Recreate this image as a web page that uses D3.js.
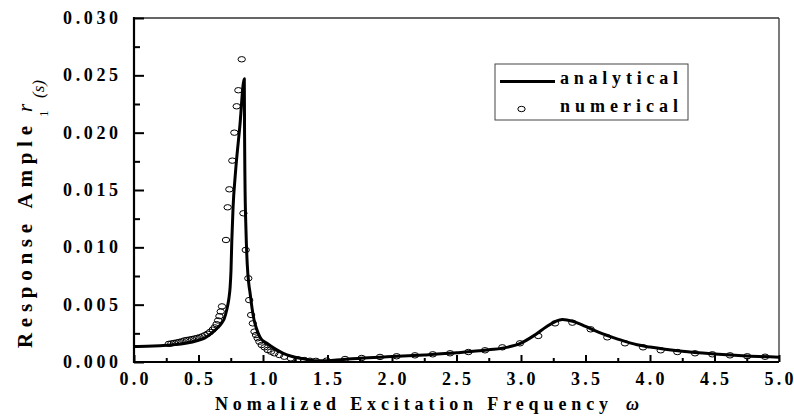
<!DOCTYPE html>
<html>
<head>
<meta charset="utf-8">
<script src="https://cdn.jsdelivr.net/npm/d3@7"></script>
<style>
  html, body { margin: 0; padding: 0; background: #fff; }
  svg { display: block; }
  text { font-family: "Liberation Serif", "Times New Roman", serif; fill: #000; }
</style>
</head>
<body>
<script>
// ---------------- data ----------------
const analyticW = [0, 0.1, 0.2, 0.3, 0.4, 0.5, 0.55, 0.6, 0.65, 0.68, 0.70, 0.72, 0.735, 0.745, 0.752, 0.758, 0.768, 0.785, 0.82, 0.855,
  0.857, 0.860, 0.868, 0.878, 0.89, 0.90, 0.915, 0.93, 0.95, 0.98, 1.03, 1.1, 1.157, 1.22, 1.287, 1.35, 1.416, 1.5,
  1.6, 1.75, 2.0, 2.25, 2.5, 2.75, 2.9, 3.0, 3.1, 3.2, 3.27, 3.32, 3.4, 3.5, 3.6, 3.75, 3.9, 4.0, 4.25, 4.5, 4.75, 5.0];
const analyticR = [0.00135, 0.00137, 0.00142, 0.0015, 0.00163, 0.0019, 0.0021, 0.0025, 0.0030, 0.0034, 0.0038, 0.0046, 0.0055, 0.0065, 0.0080, 0.0105, 0.0135, 0.0163, 0.0205, 0.0247,
  0.0200, 0.0160, 0.0115, 0.0085, 0.0068, 0.0060, 0.0047, 0.0037, 0.0029, 0.0021, 0.00163, 0.0011, 0.00076, 0.0005, 0.00032, 0.0002, 0.0001, 0.00012,
  0.0002, 0.00033, 0.00047, 0.00062, 0.0008, 0.00106, 0.0013, 0.00165, 0.0023, 0.0031, 0.00355, 0.0037, 0.00355, 0.0031, 0.0026, 0.002, 0.0015, 0.0013, 0.00093, 0.0007, 0.00053, 0.00042];

const numericW = [0.27, 0.29, 0.31, 0.33, 0.35, 0.37, 0.39, 0.41, 0.43, 0.45, 0.47, 0.49, 0.51, 0.53, 0.55, 0.57, 0.59, 0.61, 0.625, 0.64, 0.652, 0.662, 0.672, 0.682,
  0.713, 0.726, 0.739, 0.762, 0.778, 0.796, 0.809, 0.835,
  0.848, 0.866, 0.886, 0.893, 0.908, 0.921, 0.934, 0.946, 0.959, 0.972, 0.99, 1.012, 1.036, 1.062, 1.088, 1.126, 1.165, 1.216, 1.268, 1.32, 1.364, 1.41,
  1.494, 1.636, 1.765, 1.907, 2.036, 2.178, 2.316, 2.45, 2.592, 2.721, 2.855, 2.992, 3.134, 3.264, 3.398, 3.54, 3.669, 3.806, 3.946, 4.083, 4.212, 4.349, 4.483, 4.62, 4.754, 4.892];
const numericR = [0.00158, 0.00162, 0.00166, 0.00170, 0.00175, 0.00180, 0.00188, 0.00192, 0.00196, 0.00200, 0.00205, 0.00210, 0.00216, 0.00224, 0.00234, 0.00246, 0.00262, 0.00282, 0.00302, 0.00330, 0.00362, 0.00400, 0.00440, 0.00485,
  0.01064, 0.01349, 0.01506, 0.01756, 0.0200, 0.0223, 0.0237, 0.0264,
  0.01297, 0.00977, 0.0073, 0.0054, 0.0041, 0.00337, 0.00265, 0.00235, 0.00207, 0.00177, 0.00148, 0.00128, 0.00105, 0.0009, 0.00076, 0.00061, 0.00046, 0.00032, 0.00024, 0.00017, 0.00011, 0.0001,
  0.00012, 0.00026, 0.00035, 0.00044, 0.0005, 0.00058, 0.00067, 0.00076, 0.00087, 0.00102, 0.00128, 0.00163, 0.00227, 0.00337, 0.00343, 0.00285, 0.00215, 0.00163, 0.00128, 0.00102, 0.00087, 0.00076, 0.00067, 0.00058, 0.0005, 0.00046];

const xTickValues = [0, 0.5, 1, 1.5, 2, 2.5, 3, 3.5, 4, 4.5, 5];
const xMinorValues = [0.25, 0.75, 1.25, 1.75, 2.25, 2.75, 3.25, 3.75, 4.25, 4.75];
const yTickValues = [0, 0.005, 0.01, 0.015, 0.02, 0.025, 0.03];
const yMinorValues = [0.0025, 0.0075, 0.0125, 0.0175, 0.0225, 0.0275];
const legendLabels = ["analytical", "numerical"];
const xTitle = "Nomalized Excitation Frequency";
const yTitle = "Response Ample";

// ---------------- drawing ----------------
const W = 794, H = 419;
const L = 134, R = 779, T = 18, B = 362;
const svg = d3.select("body").append("svg").attr("width", W).attr("height", H);

const x = d3.scaleLinear().domain([0, 5]).range([L, R]);
const y = d3.scaleLinear().domain([0, 0.03]).range([B, T]);

svg.append("defs").append("clipPath").attr("id", "clip")
  .append("rect").attr("x", L).attr("y", T).attr("width", R - L).attr("height", B - T);

// frame
svg.append("line").attr("x1", L).attr("x2", R).attr("y1", T).attr("y2", T).attr("stroke", "#333").attr("stroke-width", 1.3);
svg.append("line").attr("x1", R).attr("x2", R).attr("y1", T).attr("y2", B).attr("stroke", "#333").attr("stroke-width", 1.3);

// axes with inward ticks
const gx = svg.append("g").attr("transform", `translate(0,${B})`);
gx.call(d3.axisBottom(x).tickValues(xTickValues).tickSizeInner(-7).tickSizeOuter(0).tickFormat(""));
const gxm = svg.append("g").attr("transform", `translate(0,${B})`);
gxm.call(d3.axisBottom(x).tickValues(xMinorValues).tickSizeInner(-4).tickSizeOuter(0).tickFormat(""));
const gy = svg.append("g").attr("transform", `translate(${L},0)`);
gy.call(d3.axisLeft(y).tickValues(yTickValues).tickSizeInner(-10).tickSizeOuter(0).tickFormat(""));
const gym = svg.append("g").attr("transform", `translate(${L},0)`);
gym.call(d3.axisLeft(y).tickValues(yMinorValues).tickSizeInner(-6).tickSizeOuter(0).tickFormat(""));
[gx, gxm, gy, gym].forEach(g => {
  g.selectAll(".domain").remove();
  g.selectAll(".tick line").attr("stroke", "#000").attr("stroke-width", 2);
});
svg.append("line").attr("x1", L).attr("x2", R).attr("y1", B).attr("y2", B).attr("stroke", "#000").attr("stroke-width", 2.2);
svg.append("line").attr("x1", L).attr("x2", L).attr("y1", T - 1).attr("y2", B + 1).attr("stroke", "#000").attr("stroke-width", 2.2);

// tick labels
svg.append("g").selectAll("text").data(xTickValues).join("text")
  .attr("x", d => x(d) - 14.5).attr("y", 385)
  .attr("textLength", 29).attr("lengthAdjust", "spacing")
  .style("font-size", "18px").style("font-weight", "bold")
  .text(d => d3.format(".1f")(d));
svg.append("g").selectAll("text").data(yTickValues).join("text")
  .attr("x", 63).attr("y", d => y(d) + 6)
  .attr("textLength", 55).attr("lengthAdjust", "spacing")
  .style("font-size", "18px").style("font-weight", "bold")
  .text(d => d3.format(".3f")(d));

// x title
svg.append("text").attr("x", 215).attr("y", 410)
  .attr("textLength", 393).attr("lengthAdjust", "spacing")
  .style("font-size", "18px").style("font-weight", "bold")
  .text(xTitle);
svg.append("text").attr("x", 626).attr("y", 410)
  .style("font-size", "18px").style("font-weight", "bold").style("font-style", "italic")
  .text("ω");

// y title (rotated)
const yt = svg.append("g").attr("transform", "translate(32,348) rotate(-90)");
yt.append("text").attr("x", 0).attr("y", 0)
  .attr("textLength", 222).attr("lengthAdjust", "spacing")
  .style("font-size", "21px").style("font-weight", "bold")
  .text(yTitle);
yt.append("text").attr("x", 236).attr("y", 0)
  .style("font-size", "21px").style("font-style", "italic")
  .text("r");
yt.append("text").attr("x", 231).attr("y", 16)
  .style("font-size", "13px")
  .text("1");
yt.append("text").attr("x", 250).attr("y", 12)
  .style("font-size", "17px").style("font-style", "italic")
  .text("(s)");

// plot
const plot = svg.append("g").attr("clip-path", "url(#clip)");
const aData = analyticW.map((w, i) => [w, analyticR[i]]);
const nData = numericW.map((w, i) => [w, numericR[i]]);

plot.append("path").datum(aData)
  .attr("fill", "none").attr("stroke", "#000").attr("stroke-width", 3).attr("stroke-linejoin", "round")
  .attr("d", d3.line().x(d => x(d[0])).y(d => y(d[1])).curve(d3.curveMonotoneX));

plot.append("g").selectAll("ellipse").data(nData).join("ellipse")
  .attr("cx", d => x(d[0])).attr("cy", d => y(d[1]))
  .attr("rx", 3.7).attr("ry", 2.7)
  .attr("fill", "none").attr("stroke", "#000").attr("stroke-width", 1);

// legend
const lg = svg.append("g");
lg.append("rect").attr("x", 495).attr("y", 64).attr("width", 193).attr("height", 56)
  .attr("fill", "#fff").attr("stroke", "#444").attr("stroke-width", 1);
lg.append("line").attr("x1", 500).attr("x2", 555).attr("y1", 81.5).attr("y2", 81.5)
  .attr("stroke", "#000").attr("stroke-width", 3);
lg.append("ellipse").attr("cx", 521.5).attr("cy", 109).attr("rx", 3.7).attr("ry", 2.7)
  .attr("fill", "none").attr("stroke", "#000").attr("stroke-width", 1);
lg.selectAll("text.lab").data(legendLabels).join("text").attr("class", "lab")
  .attr("x", 560).attr("y", (d, i) => 84 + i * 28)
  .attr("textLength", 118).attr("lengthAdjust", "spacing")
  .style("font-size", "18px").style("font-weight", "bold")
  .text(d => d);
</script>
</body>
</html>
